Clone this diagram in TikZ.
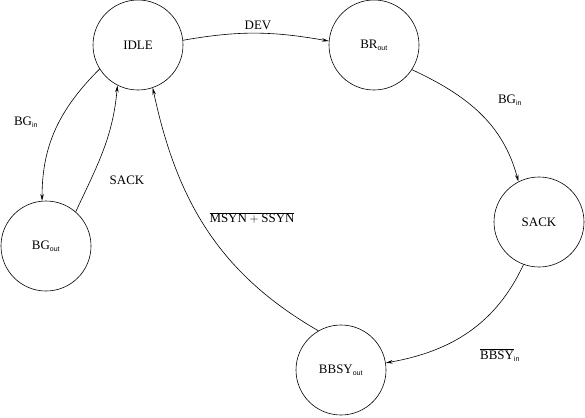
\documentclass[tikz,border=0pt]{standalone}
\usepackage{fontspec}
\setmainfont{Liberation Serif}
\setsansfont{Liberation Sans}
\usetikzlibrary{arrows.meta}

\newcommand{\lo}[1]{\textsubscript{\fontsize{7}{7}\sffamily #1}}

\begin{document}
\begin{tikzpicture}[x=1bp,y=1bp,line width=0.6bp,
		>={Stealth[length=7bp,width=3.5bp]},
		font=\fontsize{13}{15}\selectfont,
		statenode/.style={circle,draw,minimum size=90bp,inner sep=0pt}]
		\useasboundingbox (0,0) rectangle (585,417);
		% states
		\node[statenode] (idle) at (138,372) {IDLE};
		\node[statenode] (brout) at (374,372) {BR\lo{out}};
		\node[statenode] (sack) at (539,195) {SACK};
		\node[statenode] (bgout) at (46,171) {BG\lo{out}};
		\node[statenode] (bbsy) at (341,47) {BBSY\lo{out}};
		% transitions
		\draw[->] (idle.6) to[out=10,in=170] (brout.175);
		\draw[->] (brout.-33) to[out=-25,in=105] (sack.117);
		\draw[->] (sack.-110) to[out=-115,in=10] (bbsy.9);
		\draw[->] (bbsy.120) to[out=150,in=-78] (idle.-71);
		\draw[->] (idle.-148) to[out=-135,in=90] (bgout.95);
		\draw[->] (bgout.49) to[out=65,in=-95] (idle.-117);
		% labels
		\node (ldev) at (258,392) {DEV};
		\node (lbgin) at (510,317) {BG\lo{in}};
		\node (lbbsy) at (500,62) {$\overline{\mbox{BBSY}}$\lo{in}};
		\node (lsyn) at (252,199) {$\overline{\mbox{MSYN}+\mbox{SSYN}}$};
		\node (lbgin2) at (26,295) {BG\lo{in}};
		\node (lsack) at (127,237) {SACK};
	\end{tikzpicture}
\end{document}
